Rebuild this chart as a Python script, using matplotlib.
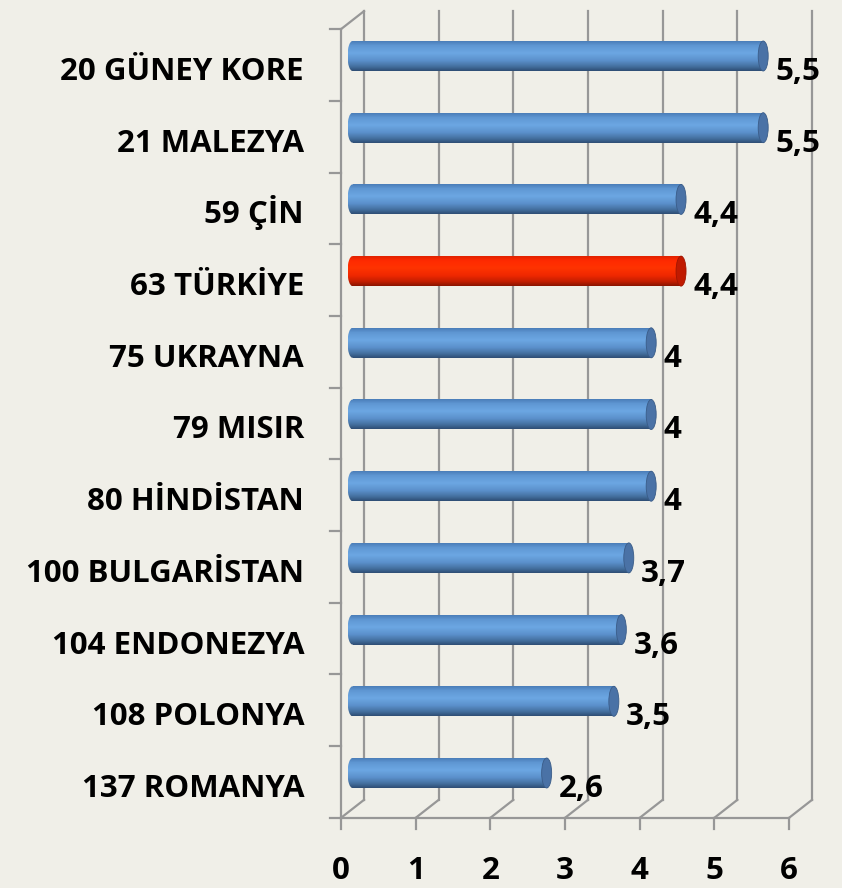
import numpy as np
import matplotlib
matplotlib.use("Agg")
import matplotlib.pyplot as plt
from matplotlib.patches import Ellipse
from matplotlib.colors import LinearSegmentedColormap

# ---- data ----
categories = ["20 GÜNEY KORE", "21 MALEZYA", "59 ÇİN", "63 TÜRKİYE", "75 UKRAYNA",
              "79 MISIR", "80 HİNDİSTAN", "100 BULGARİSTAN", "104 ENDONEZYA",
              "108 POLONYA", "137 ROMANYA"]
values = [5.5, 5.5, 4.4, 4.4, 4.0, 4.0, 4.0, 3.7, 3.6, 3.5, 2.6]
highlight = "63 TÜRKİYE"
x_ticks = [0, 1, 2, 3, 4, 5, 6]

# ---- style ----
BG = "#F0EFE8"
GRID = "#979797"
FONT = "Open Sans"
plt.rcParams['font.family'] = [FONT, 'DejaVu Sans']
FS = 22.5

blue_cmap = LinearSegmentedColormap.from_list("blue", [
    (0.0, "#4A7DB8"), (0.15, "#5F97D3"), (0.4, "#6CA7E3"),
    (0.65, "#5B90CB"), (0.85, "#44709F"), (1.0, "#2E4D74")])
red_cmap = LinearSegmentedColormap.from_list("red", [
    (0.0, "#E02200"), (0.15, "#FF2A00"), (0.4, "#FF3300"),
    (0.65, "#F02800"), (0.85, "#C41E00"), (1.0, "#8A1400")])
BLUE_CAP = "#4A72A6"
RED_CAP = "#C01A00"

W, H, DPI = 842, 888, 100
fig = plt.figure(figsize=(W / DPI, H / DPI), dpi=DPI)
fig.patch.set_facecolor(BG)
ax = fig.add_axes([0, 0, 1, 1])
ax.set_facecolor(BG)
ax.axis("off")

PX = 74.67      # px per x unit
X0 = 341        # px of x=0 on front plane
SP = 71.7       # px per category
Y0 = 56         # px of first bar centre
xlim = (-X0 / PX, (W - X0) / PX)
ylim = ((H - Y0) / SP, -Y0 / SP)

n = len(categories)
xmax = x_ticks[-1]
dx = 23 / PX        # depth offset in x
dy = -18 / SP       # depth offset in y (up)
fy_top = -0.5 - dy / 2
fy_bot = n - 0.5 - dy / 2
by_top = fy_top + dy
by_bot = fy_bot + dy

lw = 1.6
for k in x_ticks:
    ax.plot([k + dx, k + dx], [by_bot, by_top], color=GRID, lw=lw, zorder=1)
for k in x_ticks:
    ax.plot([k, k + dx], [fy_bot, by_bot], color=GRID, lw=lw, zorder=1)
ax.plot([0, xmax], [fy_bot, fy_bot], color=GRID, lw=lw, zorder=1)
ax.plot([0, 0], [fy_bot, fy_top], color=GRID, lw=lw, zorder=1)
ax.plot([0, dx], [fy_top, by_top], color=GRID, lw=lw, zorder=1)
for k in range(n + 1):
    ax.plot([-11 / PX, 0], [fy_top + k, fy_top + k], color=GRID, lw=lw, zorder=1)
for k in x_ticks:
    ax.plot([k, k], [fy_bot, fy_bot + 11 / SP], color=GRID, lw=lw, zorder=1)
    ax.text(k, fy_bot + 61 / SP, str(k), ha="center", va="baseline",
            fontsize=FS, fontweight="bold", color="black")

# bars (cylinders)
h = 30 / SP
ew = 10 / PX
xs = dx / 2
grad = np.linspace(0, 1, 200).reshape(-1, 1)
for i, (cat, v) in enumerate(zip(categories, values)):
    cmap = red_cmap if cat == highlight else blue_cmap
    cap = RED_CAP if cat == highlight else BLUE_CAP
    ax.imshow(grad, cmap=cmap, aspect="auto", origin="upper",
              extent=(xs, xs + v, i + h / 2, i - h / 2), zorder=3,
              interpolation="bilinear")
    el = Ellipse((xs, i), ew, h, transform=ax.transData, facecolor="none",
                 edgecolor="none")
    ax.add_patch(el)
    im = ax.imshow(grad, cmap=cmap, aspect="auto", origin="upper",
                   extent=(xs - ew / 2, xs + ew / 2, i + h / 2, i - h / 2),
                   zorder=3, interpolation="bilinear")
    im.set_clip_path(el)
    ax.add_patch(Ellipse((xs + v, i), ew, h, facecolor=cap,
                         edgecolor="#3A5C88" if cat != highlight else "#A01500",
                         lw=0.6, zorder=4))
    ax.text(xs + v + 12 / PX, i + 24 / SP, f"{v:g}".replace(".", ","),
            ha="left", va="baseline", fontsize=FS, fontweight="bold",
            color="black", zorder=5)
    ax.text(-37 / PX, i + 24 / SP, cat, ha="right", va="baseline", fontsize=FS,
            fontweight="bold", color="black", zorder=5)

ax.set_xlim(*xlim)
ax.set_ylim(*ylim)
fig.savefig("out.png", dpi=DPI, facecolor=BG)
